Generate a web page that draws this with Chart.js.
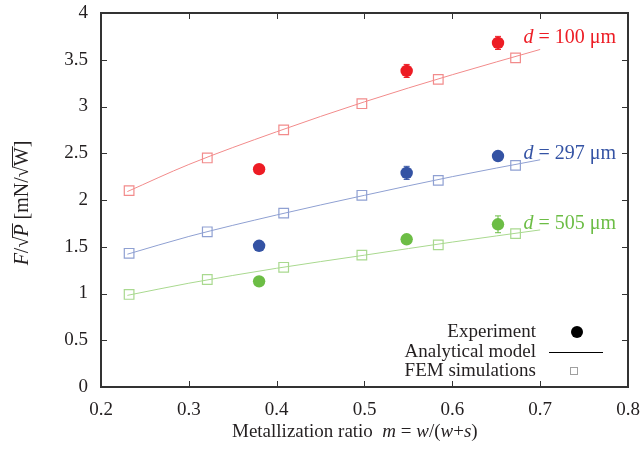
<!DOCTYPE html>
<html>
<head>
<meta charset="utf-8">
<script src="https://cdn.jsdelivr.net/npm/chart.js@4.4.0/dist/chart.umd.min.js"></script>
<style>
html,body{margin:0;padding:0;background:#fff;}
#wrap{width:644px;height:454px;}
</style>
</head>
<body>
<div id="wrap"><canvas id="c" width="644" height="454"></canvas></div>
<script>
// ---- data ----
const femX = [0.232, 0.321, 0.408, 0.497, 0.584, 0.672];
const fem100 = [2.10, 2.45, 2.75, 3.03, 3.29, 3.52];
const fem297 = [1.43, 1.66, 1.86, 2.05, 2.21, 2.37];
const fem505 = [0.99, 1.15, 1.28, 1.41, 1.52, 1.64];

const modelX = [0.23, 0.3, 0.4, 0.5, 0.6, 0.7];
const model100 = [2.09, 2.38, 2.73, 3.05, 3.34, 3.61];
const model297 = [1.42, 1.61, 1.84, 2.05, 2.25, 2.43];
const model505 = [0.98, 1.11, 1.27, 1.41, 1.55, 1.68];

const expX = [0.38, 0.548, 0.652];
const exp100 = [2.33, 3.38, 3.68];
const exp297 = [1.51, 2.29, 2.47];
const exp505 = [1.13, 1.58, 1.74];
const err100 = [0, 0.07, 0.07];
const err297 = [0, 0.07, 0];
const err505 = [0, 0, 0.09];

const seriesNames = ['d = 100 μm', 'd = 297 μm', 'd = 505 μm'];
const labelPos = [[0.681, 3.74], [0.681, 2.50], [0.681, 1.75]];

const xTicks = [0.2, 0.3, 0.4, 0.5, 0.6, 0.7, 0.8];
const xTickLabels = ['0.2', '0.3', '0.4', '0.5', '0.6', '0.7', '0.8'];
const yTicks = [0, 0.5, 1, 1.5, 2, 2.5, 3, 3.5, 4];
const yTickLabels = ['0', '0.5', '1', '1.5', '2', '2.5', '3', '3.5', '4'];

const legendLabels = ['Experiment', 'Analytical model', 'FEM simulations'];

// ---- styles ----
const strong = ['#ed1c24', '#3453a4', '#6cbd45'];
const light = ['#f28b8b', '#8fa0d2', '#a9d98f'];
const serif = '"Liberation Serif", "DejaVu Serif", serif';
const textCol = '#231f20';
const frameCol = '#333333';

const zip = (xs, ys) => xs.map((x, i) => ({x, y: ys[i]}));

const models = [model100, model297, model505];
const fems = [fem100, fem297, fem505];
const exps = [exp100, exp297, exp505];
const errs = [err100, err297, err505];

const datasets = [];
for (let k = 0; k < 3; k++) {
  datasets.push({
    data: zip(modelX, models[k]), showLine: true, borderColor: light[k], borderWidth: 1,
    pointRadius: 0, cubicInterpolationMode: 'monotone', fill: false, order: 3
  });
}
for (let k = 0; k < 3; k++) {
  datasets.push({
    data: zip(femX, fems[k]), showLine: false, pointStyle: 'rect', pointRadius: 6.8,
    borderColor: light[k], backgroundColor: 'rgba(255,255,255,0)', pointBorderWidth: 1.2, order: 2
  });
}
for (let k = 0; k < 3; k++) {
  datasets.push({
    data: zip(expX, exps[k]), showLine: false, pointStyle: 'circle', pointRadius: 6.2,
    borderColor: strong[k], backgroundColor: strong[k], pointBorderWidth: 0, order: 1
  });
}

function drawRich(ctx, parts, x, y, size, align) {
  let total = 0;
  const widths = parts.map(p => {
    ctx.font = (p[1] ? 'italic ' : '') + size + 'px ' + serif;
    const w = ctx.measureText(p[0]).width;
    total += w;
    return w;
  });
  let cx = align === 'center' ? x - total / 2 : (align === 'right' ? x - total : x);
  ctx.textAlign = 'left';
  parts.forEach((p, i) => {
    ctx.font = (p[1] ? 'italic ' : '') + size + 'px ' + serif;
    ctx.fillText(p[0], cx, y);
    if (p[2]) {
      ctx.fillRect(cx - 1, y - size * 0.8, widths[i] + 2, 1);
    }
    cx += widths[i];
  });
}

const decor = {
  id: 'decor',
  afterDraw(chart) {
    const ctx = chart.ctx;
    const xs = chart.scales.x, ys = chart.scales.y;
    const L = xs.getPixelForValue(xTicks[0]);
    const R = xs.getPixelForValue(xTicks[xTicks.length - 1]);
    const B = ys.getPixelForValue(yTicks[0]);
    const T = ys.getPixelForValue(yTicks[yTicks.length - 1]);
    ctx.save();
    // error bars
    for (let k = 0; k < 3; k++) {
      ctx.strokeStyle = strong[k];
      ctx.lineWidth = 1;
      expX.forEach((xv, i) => {
        const e = errs[k][i];
        if (!e) return;
        const px = xs.getPixelForValue(xv);
        const y1 = ys.getPixelForValue(exps[k][i] + e);
        const y2 = ys.getPixelForValue(exps[k][i] - e);
        ctx.beginPath();
        ctx.moveTo(px, y1); ctx.lineTo(px, y2);
        ctx.moveTo(px - 3, y1); ctx.lineTo(px + 3, y1);
        ctx.moveTo(px - 3, y2); ctx.lineTo(px + 3, y2);
        ctx.stroke();
      });
    }
    // frame
    ctx.fillStyle = frameCol;
    ctx.fillRect(L - 1, T - 1, R - L + 2, 2);
    ctx.fillRect(L - 1, B - 1, R - L + 2, 2);
    ctx.fillRect(L - 1, T - 1, 2, B - T + 2);
    ctx.fillRect(R - 1, T - 1, 2, B - T + 2);
    // inward ticks
    const tl = 6;
    xTicks.forEach(v => {
      const px = Math.round(xs.getPixelForValue(v));
      ctx.fillRect(px, B - tl, 1, tl);
      ctx.fillRect(px, T, 1, tl);
    });
    yTicks.forEach(v => {
      const py = Math.round(ys.getPixelForValue(v));
      ctx.fillRect(L, py, tl, 1);
      ctx.fillRect(R - tl, py, tl, 1);
    });
    // series labels
    ctx.textBaseline = 'middle';
    for (let k = 0; k < 3; k++) {
      ctx.fillStyle = strong[k];
      const nm = seriesNames[k];
      const px = xs.getPixelForValue(labelPos[k][0]);
      const py = ys.getPixelForValue(labelPos[k][1]);
      drawRich(ctx, [[nm.slice(0, 1), true], [nm.slice(1), false]], px, py, 20, 'left');
    }
    // legend
    ctx.fillStyle = textCol;
    const lx = 536, rows = [332, 352, 371];
    legendLabels.forEach((t, i) => {
      drawRich(ctx, [[t, false]], lx, rows[i], 19, 'right');
    });
    ctx.beginPath();
    ctx.fillStyle = '#000';
    ctx.arc(577, rows[0], 6, 0, Math.PI * 2);
    ctx.fill();
    ctx.fillRect(549, rows[1], 54, 1);
    ctx.strokeStyle = '#a0a0a0';
    ctx.lineWidth = 1;
    ctx.strokeRect(570.5, rows[2] - 3.5, 7, 7);
    // axis titles
    ctx.fillStyle = textCol;
    ctx.textBaseline = 'alphabetic';
    drawRich(ctx, [['Metallization ratio  ', false], ['m', true], [' = ', false], ['w', true], ['/(', false], ['w', true], ['+', false], ['s', true], [')', false]], 232, 437, 19, 'left');
    ctx.save();
    ctx.translate(28, 203);
    ctx.rotate(-Math.PI / 2);
    drawRich(ctx, [['F', true], ['/√', false], ['P', true, true], [' [mN/√', false], ['W', false, true], [']', false]], 0, 0, 20, 'center');
    ctx.restore();
    ctx.restore();
  }
};

new Chart(document.getElementById('c'), {
  type: 'scatter',
  data: {datasets},
  options: {
    responsive: false,
    animation: false,
    layout: {padding: {top: 13, right: 16, left: 0, bottom: 0}},
    plugins: {legend: {display: false}, tooltip: {enabled: false}},
    scales: {
      x: {
        type: 'linear', min: 0.2, max: 0.8,
        afterFit: s => { s.height = 67; s.paddingLeft = 0; s.paddingRight = 0; },
        afterBuildTicks: s => { s.ticks = xTicks.map(v => ({value: v})); },
        grid: {display: false, drawTicks: false},
        border: {display: true, color: frameCol, width: 2},
        ticks: {
          padding: 12, color: textCol, font: {family: serif, size: 19}, maxRotation: 0,
          callback: (v, i) => xTickLabels[i]
        }
      },
      y: {
        type: 'linear', min: 0, max: 4,
        afterFit: s => { s.width = 101; s.paddingTop = 0; s.paddingBottom = 0; },
        afterBuildTicks: s => { s.ticks = yTicks.map(v => ({value: v})); },
        grid: {display: false, drawTicks: false},
        border: {display: true, color: frameCol, width: 2},
        ticks: {
          padding: 13, color: textCol, font: {family: serif, size: 19},
          callback: (v, i) => yTickLabels[i]
        }
      }
    }
  },
  plugins: [decor]
});
</script>
</body>
</html>
